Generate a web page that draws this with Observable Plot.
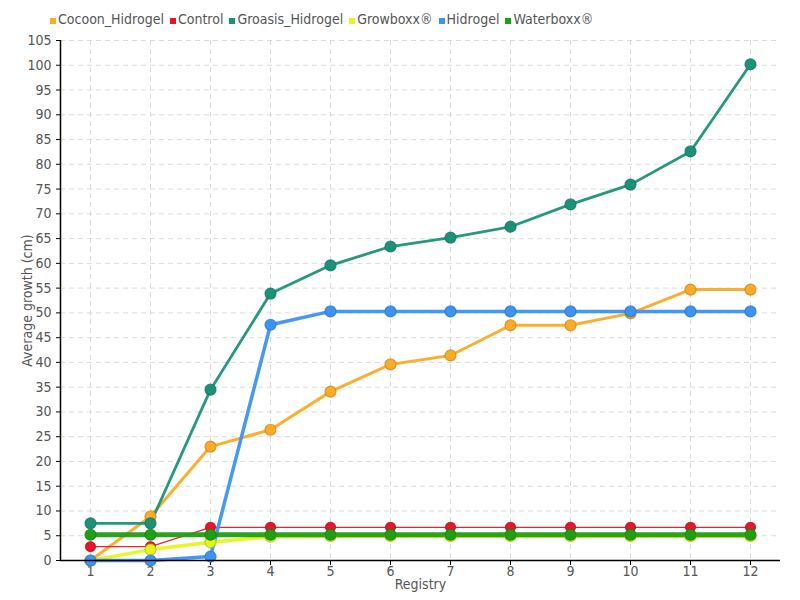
<!DOCTYPE html>
<html><head><meta charset="utf-8">
<script src="https://cdn.jsdelivr.net/npm/d3@7"></script>
<script src="https://cdn.jsdelivr.net/npm/@observablehq/plot@0.6"></script>
<style>
body{margin:0;background:#fff;font-family:"DejaVu Sans Condensed","DejaVu Sans",sans-serif;}
#wrap{position:relative;width:800px;height:600px;}
#legend{position:absolute;left:50px;top:11px;display:flex;gap:6px;font-size:14px;color:#555;font-stretch:condensed;}
#legend span.item{display:flex;align-items:center;}
#legend span.sw{display:inline-block;width:6px;height:6px;margin-right:2px;margin-top:3px;}
</style></head>
<body><div id="wrap"><div id="legend"></div><div id="chart"></div></div>
<script>
const registry = [1,2,3,4,5,6,7,8,9,10,11,12];
const series = ["Cocoon_Hidrogel","Control","Groasis_Hidrogel","Growboxx®","Hidrogel","Waterboxx®"];
const colors = ["#fbab26","#e8162b","#1b9277","#e5f51b","#3b94f3","#1f9f14"];
const cocoon   = [0, 8.9, 23.0, 26.4, 34.1, 39.6, 41.4, 47.5, 47.5, 49.9, 54.7, 54.7];
const control  = [2.8, 2.8, 6.7, 6.7, 6.7, 6.7, 6.7, 6.7, 6.7, 6.7, 6.7, 6.7];
const groasis  = [7.5, 7.5, 34.5, 53.9, 59.6, 63.4, 65.2, 67.4, 71.9, 75.9, 82.6, 100.2];
const growboxx = [0, 2.2, 3.7, 4.8, 4.9, 4.9, 4.9, 4.9, 4.9, 4.9, 4.9, 4.9];
const hidrogel = [0, 0, 0.8, 47.6, 50.3, 50.3, 50.3, 50.3, 50.3, 50.3, 50.3, 50.3];
const waterboxx= [5.2, 5.2, 5.2, 5.2, 5.2, 5.2, 5.2, 5.2, 5.2, 5.2, 5.2, 5.2];
const yTicks = d3.range(0, 106, 5);

const valuesBy = {"Cocoon_Hidrogel":cocoon,"Control":control,"Groasis_Hidrogel":groasis,"Growboxx®":growboxx,"Hidrogel":hidrogel,"Waterboxx®":waterboxx};
const widths = {"Cocoon_Hidrogel":3,"Control":1.3,"Groasis_Hidrogel":2.8,"Growboxx®":3.5,"Hidrogel":3.5,"Waterboxx®":5};
const radius = {"Cocoon_Hidrogel":5.5,"Control":5,"Groasis_Hidrogel":5.5,"Growboxx®":5.5,"Hidrogel":5.5,"Waterboxx®":5.5};
const drawOrder = ["Cocoon_Hidrogel","Control","Growboxx®","Hidrogel","Waterboxx®","Groasis_Hidrogel"];
const colorOf = s => colors[series.indexOf(s)];

const marks = [
  Plot.gridY(yTicks, {stroke:"#ccc", strokeOpacity:0.7, strokeDasharray:"5,4"}),
  Plot.gridX(registry, {stroke:"#ccc", strokeOpacity:0.7, strokeDasharray:"5,4"}),
];
for (const s of drawOrder) {
  const data = registry.map((r,i)=>({r, v: valuesBy[s][i]}));
  marks.push(Plot.line(data, {x:"r", y:"v", stroke: colorOf(s), strokeWidth: widths[s], curve:"linear", strokeOpacity:0.95}));
}
for (const s of drawOrder) {
  const data = registry.map((r,i)=>({r, v: valuesBy[s][i]}));
  const c = d3.color(colorOf(s)).darker(0.6);
  marks.push(Plot.dot(data, {x:"r", y:"v", r: radius[s], fill: colorOf(s), stroke: c.formatHex(), strokeWidth:1.2, strokeOpacity:0.8}));
}
marks.push(Plot.ruleY([0], {stroke:"#000", strokeWidth:1.5}));
marks.push(Plot.ruleX([0.5], {stroke:"#000", strokeWidth:1.5}));

const chart = Plot.plot({
  width: 800, height: 600,
  marginTop: 40, marginLeft: 60, marginRight: 20, marginBottom: 40,
  style: {fontFamily:'"DejaVu Sans Condensed","DejaVu Sans",sans-serif', fontStretch:"condensed", fontSize:"14px", color:"#555", background:"#fff"},
  x: {domain:[0.5,12.5], ticks: registry, tickFormat: d=>String(d), label:"Registry", labelAnchor:"center", labelArrow:"none", labelOffset:28, tickSize:5, tickPadding:1},
  y: {domain:[0,105], ticks: yTicks, label:"Average growth (cm)", labelAnchor:"center", labelArrow:"none", labelOffset:38, tickSize:4},
  marks
});
document.getElementById("chart").appendChild(chart);
d3.select(chart).selectAll("[aria-label='x-axis tick'], [aria-label='y-axis tick']").attr("stroke","#000");

const lg = document.getElementById("legend");
series.forEach((s,i)=>{
  const it = document.createElement("span"); it.className="item";
  const sw = document.createElement("span"); sw.className="sw"; sw.style.background=colors[i];
  it.appendChild(sw); it.appendChild(document.createTextNode(s));
  lg.appendChild(it);
});
</script></body></html>
